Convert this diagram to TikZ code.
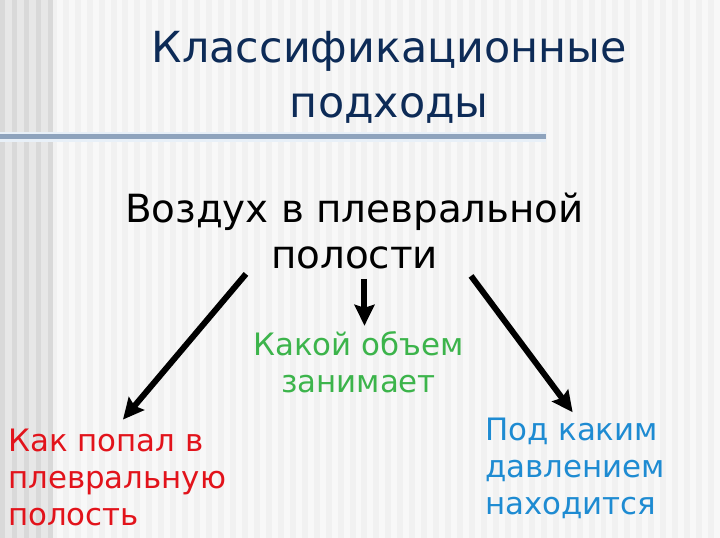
\documentclass[tikz,border=0pt]{standalone}
\usepackage{fontspec}
\setmainfont{DejaVu Sans}
\usetikzlibrary{arrows.meta, positioning, calc}
\definecolor{slnavy}{HTML}{0D2B57}
\definecolor{slred}{HTML}{E2131B}
\definecolor{slgreen}{HTML}{3CB44B}
\definecolor{slblue}{HTML}{1E8BD2}
\definecolor{slrule}{HTML}{8EA3BD}
\definecolor{slhalo}{HTML}{E8F0F8}
\definecolor{slbg}{HTML}{F1F1F1}
\definecolor{slstripe}{HTML}{F8F8F8}
\definecolor{slside}{HTML}{E7E7E7}
\definecolor{slsidestripe}{HTML}{D9D9D9}

\begin{document}
\begin{tikzpicture}[
  x=1pt, y=-1pt,
  heading/.style={
    align=center,
    text=slnavy,
    font=\fontsize{43}{55}\selectfont
  },
  topic/.style={
    align=center,
    text=black,
    font=\fontsize{39}{47}\selectfont
  },
  branch/.style={
    font=\fontsize{31}{37.5}\selectfont,
    inner sep=2pt
  },
  bigarrow/.style={
    line width=6pt,
    -{Stealth[length=21pt, width=20pt, inset=3pt]}
  }
]
  % striped slide background
  \fill[slbg] (0,0) rectangle (720,540);
  \foreach \x in {57,69,...,717}
    \fill[slstripe] (\x,0) rectangle ++(6,540);
  \fill[slside] (0,0) rectangle (53,540);
  \foreach \x in {0,12,...,48}
    \fill[slsidestripe] (\x,0) rectangle ++(5,540);
  \useasboundingbox (0,0) rectangle (720,540);

  % title and rule (base = last line)
  \node[heading, anchor=base] (title) at (391,118) {Классификационные\\подходы};
  \draw[slhalo, line width=10pt] (0,137.5) -- (548,137.5);
  \draw[slrule, line width=5pt] (0,137.5) -- (548,137.5);

  % main topic
  \node[topic, anchor=base] (air) at (356,270) {Воздух в плевральной\\полости};

  % three questions
  \node[branch, align=center, text=slgreen, anchor=base] (volume) at (360,394) {Какой объем\\занимает};
  \node[branch, align=left, text=slred, anchor=base west] (entry) at (6,528) {Как попал в\\плевральную\\полость};
  \node[branch, align=left, text=slblue, anchor=base west] (pressure) at (485,517) {Под каким\\давлением\\находится};

  % arrows
  \draw[bigarrow, shorten >=9pt] ($(air.south)+(-109,1)$) -- (entry.north);
  \draw[bigarrow] ($(air.south)+(10,6)$) -- ($(air.south)+(10,53)$);
  \draw[bigarrow, shorten >=4pt] ($(air.south)+(117,3)$) -- (pressure.north);
\end{tikzpicture}
\end{document}
